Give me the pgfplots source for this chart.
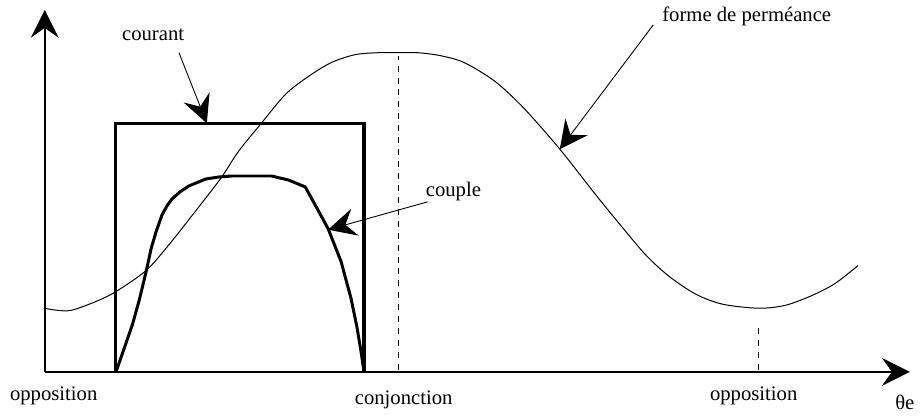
\documentclass[border=0pt]{standalone}
\usepackage{fontspec}
\setmainfont{Liberation Serif}
\usepackage{pgfplots}
\pgfplotsset{compat=1.18}
\usetikzlibrary{arrows.meta}
\begin{document}
\begin{tikzpicture}[font=\fontsize{10.4}{12}\selectfont,
  bigtip/.style={-{Stealth[length=14pt,width=14pt,inset=5pt]}},
  annot/.style={line width=0.45pt,-{Stealth[length=14pt,width=14pt,inset=5pt]}}]
\begin{axis}[
 x=0.5pt,y=0.5pt,
 xmin=0,xmax=921,ymin=-40,ymax=374,
 hide axis,clip=false]
% bounding box
\addplot[draw=none] coordinates {(0,-40) (921,374)};
% forme de permeance
\addplot[black,line width=0.5pt,smooth,tension=0.5] coordinates {
 (45,64) (57,62) (72,62) (97,71) (117,81) (147,102) (170,128)
 (200,166) (223,196) (240,222) (262,249) (287,279) (310,297)
 (333,311) (357,319) (380,321) (400,321) (420,321) (443,318)
 (467,311) (498,292) (527,265) (563,224) (600,177) (627,144)
 (650,117) (673,96) (700,78) (727,68) (763,64) (790,67) (817,77)
 (840,89) (863,107)};
% courant
\addplot[black,line width=1.8pt,line join=miter] coordinates {
 (116,0) (116,250) (366,250) (366,0)};
% couple
\addplot[black,line width=1.5pt,line join=round] coordinates {
 (117,1) (125,24) (133,47) (140,72) (147,101) (152,124) (157,141)
 (163,158) (168,167) (173,174) (181,181) (190,187) (207,194)
 (220,196) (233,197) (255,197) (273,197) (290,193) (307,186)
 (318,166) (330,144) (343,111) (353,74) (359,45) (363,21) (366,1)};
% reperes pointilles
\draw[dashed,line width=0.5pt] (axis cs:401,2) -- (axis cs:401,318);
\draw[dashed,line width=0.5pt] (axis cs:763,2) -- (axis cs:763,47);
% axes
\draw[line width=0.9pt,bigtip] (axis cs:45,0) -- (axis cs:915,0);
\draw[line width=0.9pt,bigtip] (axis cs:45,0) -- (axis cs:45,364);
% annotations
\draw[annot] (axis cs:180,321) -- (axis cs:208,250);
\draw[annot] (axis cs:430,171) -- (axis cs:330,143);
\draw[annot] (axis cs:657,349) -- (axis cs:563,224);
\node at (axis cs:154,339) {courant};
\node at (axis cs:456,181) {couple};
\node at (axis cs:751,357) {forme de perméance};
\node at (axis cs:54,-24) {opposition};
\node at (axis cs:406,-28) {conjonction};
\node at (axis cs:758,-24) {opposition};
\node at (axis cs:910,-31) {θe};
\end{axis}
\end{tikzpicture}
\end{document}
